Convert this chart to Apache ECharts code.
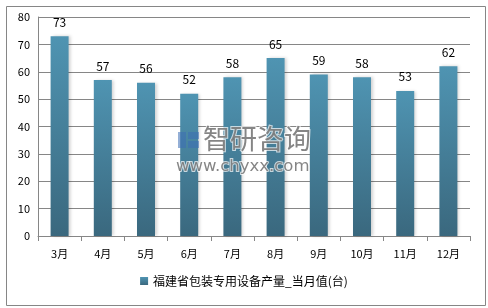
<!DOCTYPE html>
<html><head><meta charset="utf-8">
<script src="https://cdn.jsdelivr.net/npm/echarts@6/dist/echarts.min.js"></script>
<style>html,body{margin:0;padding:0;background:#fff}#c{width:488px;height:308px}</style>
</head><body><div id="c"></div>
<script>
const categories = ['3月','4月','5月','6月','7月','8月','9月','10月','11月','12月'];
const values = [73,57,56,52,58,65,59,58,53,62];
const seriesName = '福建省包装专用设备产量_当月值(台)';
const yTicks = {min:0, max:80, interval:10};

const chart = echarts.init(document.getElementById('c'));
const font = '"Microsoft YaHei","Noto Sans CJK SC","DejaVu Sans",sans-serif';
chart.setOption({
  animation:false,
  backgroundColor:'#fff',
  textStyle:{fontFamily:font},
  grid:{left:38,right:18,top:17,bottom:72},
  legend:{
    bottom:16,left:'center',itemWidth:8,itemHeight:8,itemGap:4,
    icon:'rect',
    textStyle:{fontSize:12,color:'#000',fontFamily:font},
    data:[seriesName]
  },
  xAxis:{
    type:'category',data:categories,
    axisLine:{lineStyle:{color:'#868686'}},
    axisTick:{show:true,lineStyle:{color:'#868686'},length:5},
    axisLabel:{color:'#000',fontSize:11,margin:12,fontFamily:font}
  },
  yAxis:{
    type:'value',min:yTicks.min,max:yTicks.max,interval:yTicks.interval,
    axisLine:{show:true,lineStyle:{color:'#868686'}},
    axisTick:{show:false},
    splitLine:{lineStyle:{color:'#868686'}},
    axisLabel:{color:'#000',fontSize:11,margin:8,fontFamily:font}
  },
  series:[{
    name:seriesName,type:'bar',data:values,barWidth:18,
    itemStyle:{
      color:new echarts.graphic.LinearGradient(0,0,0,1,[
        {offset:0,color:'#4f94b2'},{offset:1,color:'#3a687e'}
      ]),
      shadowColor:'rgba(0,0,0,0.18)',shadowBlur:3,shadowOffsetX:2
    },
    label:{show:true,position:'top',distance:8,color:'#000',fontSize:12,fontFamily:font}
  }],
  graphic:[
    {type:'rect',left:4,top:4,shape:{width:479,height:299},style:{fill:'none',stroke:'#868686',lineWidth:1},silent:true},
    {type:'rect',left:178,top:132,shape:{width:8,height:16},style:{fill:'rgba(60,110,180,0.55)'},z:100},
    {type:'rect',left:188,top:132,shape:{width:11,height:7},style:{fill:'rgba(60,110,180,0.55)'},z:100},
    {type:'rect',left:188,top:141,shape:{width:11,height:7},style:{fill:'rgba(60,110,180,0.55)'},z:100},
    {type:'text',left:202,top:124,z:100,style:{text:'智研咨询',fontSize:27,fill:'rgba(120,120,120,0.9)',stroke:'rgba(255,255,255,0.7)',lineWidth:2,fontFamily:font}},
    {type:'text',left:175,top:157,z:100,style:{text:'www.chyxx.com',fontSize:16.5,fill:'rgba(120,120,120,0.9)',stroke:'rgba(255,255,255,0.7)',lineWidth:2,fontFamily:'"DejaVu Sans",sans-serif'}}
  ]
});
</script></body></html>
